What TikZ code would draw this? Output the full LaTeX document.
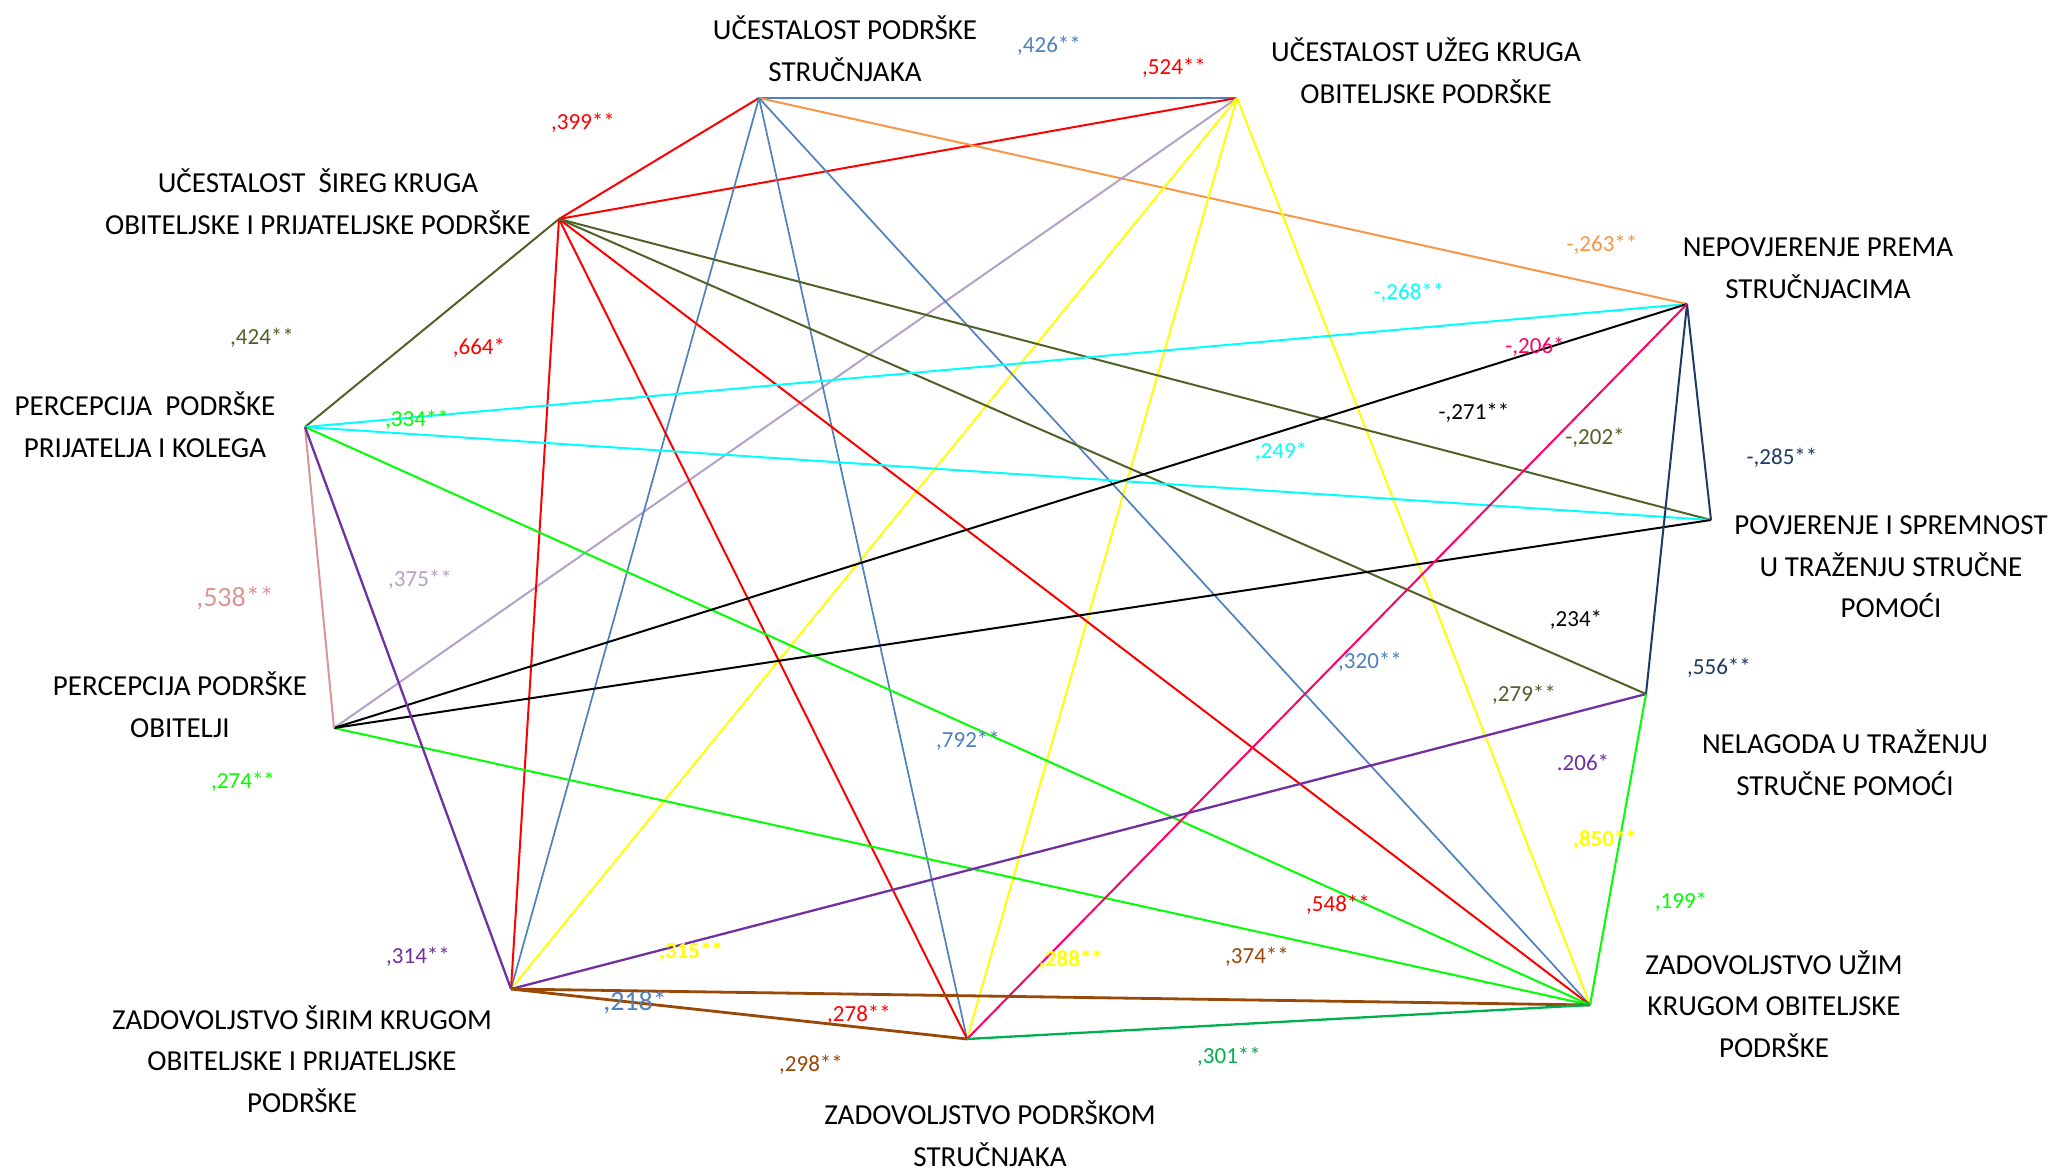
\documentclass[tikz,border=0pt]{standalone}
\usepackage{fontspec}
\setmainfont{Carlito}
\definecolor{lblue}{HTML}{4F81BD}
\definecolor{lorange}{HTML}{F79646}
\definecolor{llilac}{HTML}{B3A2C7}
\definecolor{lolive}{HTML}{4F6228}
\definecolor{lnavy}{HTML}{1F3864}
\definecolor{lpink}{HTML}{FF0066}
\definecolor{lrosy}{HTML}{D99694}
\definecolor{lpurple}{HTML}{7030A0}
\definecolor{lbrown}{HTML}{984807}
\definecolor{ldgreen}{HTML}{00B050}
\definecolor{lgreen}{HTML}{00FF00}
\definecolor{lcyan}{HTML}{00FFFF}
\definecolor{lyellow}{HTML}{FFFF00}
\definecolor{lred}{HTML}{FF0000}
\begin{document}
\begin{tikzpicture}[x=0.5pt,y=-0.5pt,
  title/.style={font=\fontsize{14.5}{20.8}\selectfont, align=center, inner sep=0pt},
  num/.style={font=\fontsize{11.5}{13}\selectfont, inner sep=0pt},
  bignum/.style={font=\fontsize{14}{16}\selectfont, inner sep=0pt},
  boldnum/.style={font=\fontsize{11.5}{13}\selectfont\bfseries, inner sep=0pt},
  link/.style={line width=1pt},
  thinlink/.style={line width=0.85pt},
  thicklink/.style={line width=1.4pt},
  midlink/.style={line width=1.15pt}]
\useasboundingbox (0,0) rectangle (2056,1172);
\fill[white] (0,0) rectangle (2056,1172);

% vertices
\coordinate (A) at (759,98);
\coordinate (B) at (1237,98);
\coordinate (C) at (559,219);
\coordinate (D) at (1687,304);
\coordinate (E) at (305,427);
\coordinate (F) at (1711,520);
\coordinate (G) at (334,728);
\coordinate (H) at (1646,694);
\coordinate (I) at (511,989);
\coordinate (J) at (967,1039);
\coordinate (K) at (1590,1005);

% connectors
\draw[link, lblue] (A) -- (B);
\draw[link, lred] (A) -- (C);
\draw[link, lred] (C) -- (B);
\draw[link, lorange] (A) -- (D);
\draw[link, llilac] (B) -- (G);
\draw[link, lyellow] (B) -- (I);
\draw[link, lyellow] (B) -- (J);
\draw[link, lyellow] (B) -- (K);
\draw[thinlink, lblue] (A) -- (I);
\draw[thinlink, lblue] (A) -- (J);
\draw[thinlink, lblue] (A) -- (K);
\draw[link, lolive] (C) -- (E);
\draw[link, lred] (C) -- (I);
\draw[link, lred] (C) -- (J);
\draw[link, lred] (C) -- (K);
\draw[link, lolive] (C) -- (F);
\draw[link, lolive] (C) -- (H);
\draw[link, lcyan] (E) -- (D);
\draw[link, lcyan] (E) -- (F);
\draw[link, lgreen] (E) -- (K);
\draw[link, lgreen] (G) -- (K);
\draw[link, black] (G) -- (D);
\draw[link, black] (G) -- (F);
\draw[link, lnavy] (D) -- (F);
\draw[link, lnavy] (D) -- (H);
\draw[link, lpink] (D) -- (J);
\draw[link, lrosy] (E) -- (G);
\draw[midlink, lpurple] (E) -- (I);
\draw[midlink, lpurple] (I) -- (H);
\draw[link, lgreen] (H) -- (K);
\draw[thicklink, lbrown] (I) -- (K);
\draw[thicklink, lbrown] (I) -- (J);
\draw[midlink, ldgreen] (J) -- (K);

% titles
\node[title] (tA) at (845,49) {UČESTALOST PODRŠKE\\STRUČNJAKA};
\node[title] (tB) at (1426,71) {UČESTALOST UŽEG KRUGA\\OBITELJSKE PODRŠKE};
\node[title] (tC) at (318,202) {UČESTALOST \ ŠIREG KRUGA\\OBITELJSKE I PRIJATELJSKE PODRŠKE};
\node[title] (tD) at (1818,268) {NEPOVJERENJE PREMA\\STRUČNJACIMA};
\node[title] (tE) at (145,425) {PERCEPCIJA \ PODRŠKE\\PRIJATELJA I KOLEGA};
\node[title] (tF) at (1891,567) {POVJERENJE I SPREMNOST\\U TRAŽENJU STRUČNE\\POMOĆI};
\node[title] (tG) at (180,705) {PERCEPCIJA PODRŠKE\\OBITELJI};
\node[title] (tH) at (1845,763) {NELAGODA U TRAŽENJU\\STRUČNE POMOĆI};
\node[title] (tK) at (1774,1004) {ZADOVOLJSTVO UŽIM\\KRUGOM OBITELJSKE\\PODRŠKE};
\node[title] (tI) at (302,1059) {ZADOVOLJSTVO ŠIRIM KRUGOM\\OBITELJSKE I PRIJATELJSKE\\PODRŠKE};
\node[title] (tJ) at (990,1134) {ZADOVOLJSTVO PODRŠKOM\\STRUČNJAKA};

% coefficients
\node[num, text=lblue] (n426) at (1049,46) {,426**};
\node[num, text=lred] (n524) at (1174,68) {,524**};
\node[num, text=lred] (n399) at (583,123) {,399**};
\node[num, text=lolive] (n424) at (262,338) {,424**};
\node[num, text=lred] (n664) at (479,348) {,664*};
\node[num, text=lgreen] (n334) at (417,420) {,334**};
\node[num, text=llilac] (n375) at (420,580) {,375**};
\node[bignum, text=lrosy] (n538) at (235,598) {,538**};
\node[num, text=lgreen] (n274) at (243,782) {,274**};
\node[num, text=lorange] (n263) at (1602,245) {-,263**};
\node[num, text=lcyan] (n268) at (1409,293) {-,268**};
\node[num, text=lpink] (n206a) at (1535,347) {-,206*};
\node[num, text=black] (n271) at (1474,413) {-,271**};
\node[num, text=lolive] (n202) at (1595,438) {-,202*};
\node[num, text=lcyan] (n249) at (1281,452) {,249*};
\node[num, text=lnavy] (n285) at (1782,458) {-,285**};
\node[num, text=black] (n234) at (1576,620) {,234*};
\node[num, text=lblue] (n320) at (1370,662) {,320**};
\node[num, text=lnavy] (n556) at (1719,668) {,556**};
\node[num, text=lolive] (n279) at (1524,695) {,279**};
\node[num, text=lpurple] (n206b) at (1583,762) {.206*};
\node[num, text=lblue] (n792) at (968,741) {,792**};
\node[boldnum, text=lyellow] (n850) at (1605,840) {,850**};
\node[num, text=lgreen] (n199) at (1681,902) {,199*};
\node[num, text=lred] (n548) at (1338,905) {,548**};
\node[num, text=lpurple] (n314) at (418,957) {,314**};
\node[boldnum, text=lyellow] (n315) at (691,952) {,315**};
\node[boldnum, text=lyellow] (n288) at (1071,960) {,288**};
\node[num, text=lbrown] (n374) at (1257,957) {,374**};
\node[bignum, text=lblue] (n218) at (635,1002) {,218*};
\node[num, text=lred] (n278) at (859,1015) {,278**};
\node[num, text=lbrown] (n298) at (811,1065) {,298**};
\node[num, text=ldgreen] (n301) at (1229,1057) {,301**};
\end{tikzpicture}
\end{document}
